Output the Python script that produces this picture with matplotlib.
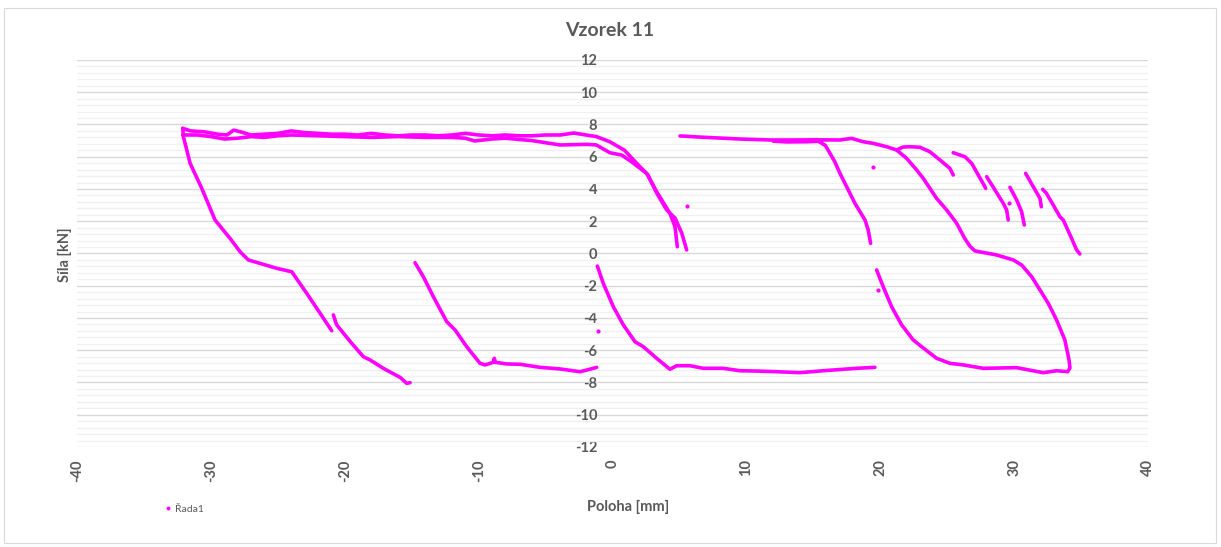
import numpy as np
import matplotlib
matplotlib.use("Agg")
import matplotlib.pyplot as plt
from matplotlib.patches import Rectangle
from matplotlib.ticker import MultipleLocator

plt.rcParams['font.family'] = ['Lato', 'DejaVu Sans']

TITLE = "Vzorek 11"
X_LABEL = "Poloha [mm]"
Y_LABEL = "Síla [kN]"
SERIES_NAME = "Řada1"

x_ticks = [-40, -30, -20, -10, 0, 10, 20, 30, 40]
y_ticks = [-12, -10, -8, -6, -4, -2, 0, 2, 4, 6, 8, 10, 12]

# Measured force–displacement traces (position mm, force kN)
top_upper_x = [-32.1, -31.5, -30.5, -29.5, -28.8, -28.3, -27.8, -27.0, -26.0, -25.0, -24.0, -23.0,
               -22.0, -21.0, -20.0, -19.0, -18.0, -17.0, -16.0, -15.0, -14.0, -13.0, -12.0, -11.0,
               -10.0, -9.0, -8.0, -7.0, -6.0, -5.0, -3.9, -2.9, -1.2, -0.2, 0.9, 1.8, 2.65, 3.3,
               4.05, 4.67, 5.17, 5.54]
top_upper_y = [7.76, 7.6, 7.55, 7.4, 7.35, 7.65, 7.55, 7.35, 7.4, 7.45, 7.6, 7.5,
               7.45, 7.4, 7.4, 7.35, 7.45, 7.35, 7.3, 7.35, 7.35, 7.3, 7.35, 7.45,
               7.35, 7.3, 7.35, 7.3, 7.3, 7.35, 7.35, 7.47, 7.25, 6.93, 6.4, 5.6, 4.87, 3.75,
               2.7, 2.2, 1.27, 0.22]

top_lower_x = [-32.1, -31.0, -30.0, -29.0, -28.0, -27.0, -26.0, -25.0, -24.0, -22.0, -20.0, -18.0,
               -16.0, -14.0, -12.0, -11.0, -10.3, -9.0, -8.0, -6.0, -3.9, -1.9, -1.2, -0.2, 0.7,
               1.4, 2.55, 3.3, 4.29, 4.67, 4.84]
top_lower_y = [7.35, 7.35, 7.25, 7.1, 7.15, 7.25, 7.2, 7.3, 7.35, 7.3, 7.25, 7.2,
               7.25, 7.2, 7.2, 7.15, 6.98, 7.1, 7.15, 7.0, 6.73, 6.77, 6.73, 6.25, 6.1,
               5.7, 4.97, 3.83, 2.49, 1.66, 0.42]

left_drop_x = [-32.1, -32.05, -31.55, -30.68, -29.69, -28.57, -27.82, -27.2, -25.08, -23.96,
               -22.84, -20.97]
left_drop_y = [7.76, 7.24, 5.59, 4.04, 2.08, 0.94, 0.11, -0.4, -0.92, -1.13, -2.47, -4.79]

cycle2_x = [-20.85, -20.7, -20.6, -19.48, -18.61, -18.11, -17.12, -15.87, -15.37, -15.12]
cycle2_y = [-3.81, -4.2, -4.43, -5.57, -6.4, -6.6, -7.12, -7.68, -8.05, -8.01]

cycle3_x = [-14.75, -14.13, -13.38, -12.38, -11.76, -10.89, -9.9, -9.52, -8.9, -8.83, -8.75,
            -7.9, -6.91, -5.41, -3.92, -2.43, -1.93, -1.18]
cycle3_y = [-0.57, -1.44, -2.68, -4.23, -4.74, -5.78, -6.81, -6.91, -6.75, -6.5, -6.75,
            -6.85, -6.87, -7.06, -7.16, -7.33, -7.23, -7.06]

cycle4_x = [-1.13, -0.69, 0.06, 0.81, 1.68, 2.3, 3.3, 4.29, 4.79, 5.79, 6.78, 8.27, 9.52,
            10.77, 12.26, 14.0, 15.74, 17.24, 18.24, 19.6]
cycle4_y = [-0.78, -1.85, -3.3, -4.43, -5.47, -5.78, -6.5, -7.18, -6.96, -6.96, -7.12, -7.12,
            -7.27, -7.29, -7.33, -7.39, -7.27, -7.18, -7.12, -7.06]

loop_x = [19.73, 20.22, 20.85, 21.6, 22.46, 23.09, 24.21, 25.2, 26.2, 27.69, 30.19, 32.17,
          33.17, 34.0, 34.17, 34.1, 33.79, 33.17, 32.55, 31.93, 31.31, 30.56, 29.93, 28.69, 27.07,
          26.7, 26.3, 25.71, 24.96, 24.21, 23.21, 22.72, 21.97, 21.22, 20.48, 19.48, 18.73,
          17.86, 16.99, 15.0, 13.3, 11.8, 9.5, 6.5, 5.04]
loop_y = [-1.02, -2.06, -3.3, -4.43, -5.36, -5.78, -6.5, -6.81, -6.91, -7.12, -7.08, -7.39,
          -7.27, -7.33, -7.1, -6.6, -5.36, -4.12, -3.09, -2.26, -1.44, -0.71, -0.4, -0.09, 0.16,
          0.45, 0.95, 1.87, 2.7, 3.42, 4.66, 5.18, 5.9, 6.42, 6.62, 6.83, 6.93,
          7.14, 7.04, 7.05, 7.04, 7.04, 7.1, 7.22, 7.29]

mid_drop_x = [15.2, 15.9, 16.6, 16.99, 17.49, 18.11, 18.86, 19.1, 19.28]
mid_drop_y = [7.05, 6.7, 5.7, 4.97, 4.14, 3.11, 2.08, 1.46, 0.63]

mid_band_x = [12.0, 13.0, 14.5, 15.6]
mid_band_y = [6.97, 6.92, 6.93, 6.97]

hump_x = [21.22, 21.7, 22.22, 22.96, 23.71, 24.46, 25.2, 25.45]
hump_y = [6.42, 6.6, 6.62, 6.59, 6.31, 5.8, 5.28, 4.87]

piece1_x = [25.45, 26.33, 26.83, 27.32, 27.82, 27.87]
piece1_y = [6.25, 6.0, 5.59, 4.87, 4.14, 4.04]
piece2_x = [27.95, 28.57, 29.19, 29.44, 29.56]
piece2_y = [4.76, 3.94, 3.11, 2.7, 2.08]
piece3_x = [29.69, 30.19, 30.56, 30.76]
piece3_y = [4.1, 3.32, 2.59, 1.77]
piece4_x = [30.86, 31.43, 31.93, 32.03]
piece4_y = [4.97, 4.14, 3.42, 2.9]
piece5_x = [32.13, 32.4, 32.92, 33.42, 33.67, 34.29, 34.67, 34.91]
piece5_y = [3.98, 3.75, 3.01, 2.28, 2.08, 0.94, 0.22, -0.03]

stray_x = [5.59, 19.43, -1.1, 19.85, 29.63]
stray_y = [2.95, 5.35, -4.81, -2.26, 3.11]

traces = [
    (top_upper_x, top_upper_y), (top_lower_x, top_lower_y), (left_drop_x, left_drop_y),
    (cycle2_x, cycle2_y), (cycle3_x, cycle3_y), (cycle4_x, cycle4_y), (loop_x, loop_y),
    (mid_drop_x, mid_drop_y), (mid_band_x, mid_band_y), (hump_x, hump_y),
    (piece1_x, piece1_y), (piece2_x, piece2_y), (piece3_x, piece3_y),
    (piece4_x, piece4_y), (piece5_x, piece5_y),
]

MAGENTA = "#FF00FF"
TEXT_GRAY = "#595959"

W, H = 1221, 547
fig = plt.figure(figsize=(W / 100, H / 100), dpi=100)
fig.patch.set_facecolor("white")
fig.add_artist(Rectangle((4 / W, 4 / H), 1 - 9 / W, 1 - 12 / H, transform=fig.transFigure,
                         fill=False, edgecolor="#D9D9D9", linewidth=0.8))

ax = fig.add_axes([77 / W, 1 - 447 / H, 1071 / W, 387 / H])
ax.set_xlim(-40, 40)
ax.set_ylim(-12, 12)

for xs, ys in traces:
    ax.plot(xs, ys, color=MAGENTA, linewidth=2.6, solid_capstyle="round",
            solid_joinstyle="round", zorder=3)
ax.plot(stray_x, stray_y, linestyle="none", marker="o", markersize=2.0, color=MAGENTA, zorder=3)

# gridlines: major every 2 kN, minor every 0.4 kN
ax.yaxis.set_major_locator(MultipleLocator(2))
ax.yaxis.set_minor_locator(MultipleLocator(0.4))
ax.grid(which="minor", axis="y", color="#F0F0F0", linewidth=1.0, zorder=0)
ax.grid(which="major", axis="y", color="#D9D9D9", linewidth=1.0, zorder=1)
ax.set_axisbelow(True)

for side in ["top", "right", "bottom"]:
    ax.spines[side].set_visible(False)
ax.spines["left"].set_position(("data", 0))
ax.spines["left"].set_visible(False)

ax.set_yticks(y_ticks)
ax.set_yticklabels([str(v) for v in y_ticks])
ax.set_xticks(x_ticks)
ax.set_xticklabels([str(v) for v in x_ticks], rotation=90)
ax.tick_params(axis="both", which="both", length=0, colors=TEXT_GRAY, labelsize=10.5)
ax.tick_params(axis="y", pad=11)
ax.tick_params(axis="x", pad=9)
for lab in ax.get_xticklabels() + ax.get_yticklabels():
    lab.set_fontweight("bold")
    lab.set_color(TEXT_GRAY)

fig.text(610 / W, 1 - 30 / H, TITLE, ha="center", va="center", fontsize=14,
         fontweight="bold", color=TEXT_GRAY)
fig.text(628 / W, 1 - 507 / H, X_LABEL, ha="center", va="center", fontsize=10.5,
         fontweight="bold", color=TEXT_GRAY)
fig.text(65 / W, 1 - 255 / H, Y_LABEL, ha="center", va="center", rotation=90, fontsize=10.5,
         fontweight="bold", color=TEXT_GRAY)

# legend entry
ax.plot([], [], linestyle="none", marker="o", markersize=1.8, color=MAGENTA, label=SERIES_NAME)
fig.legend(loc="center left", bbox_to_anchor=(163 / W, 1 - 509 / H), frameon=False,
           fontsize=7.5, handletextpad=0.2, handlelength=1.0, markerscale=1.0,
           labelcolor=TEXT_GRAY, borderaxespad=0, borderpad=0)

fig.savefig("out.png", dpi=100)
